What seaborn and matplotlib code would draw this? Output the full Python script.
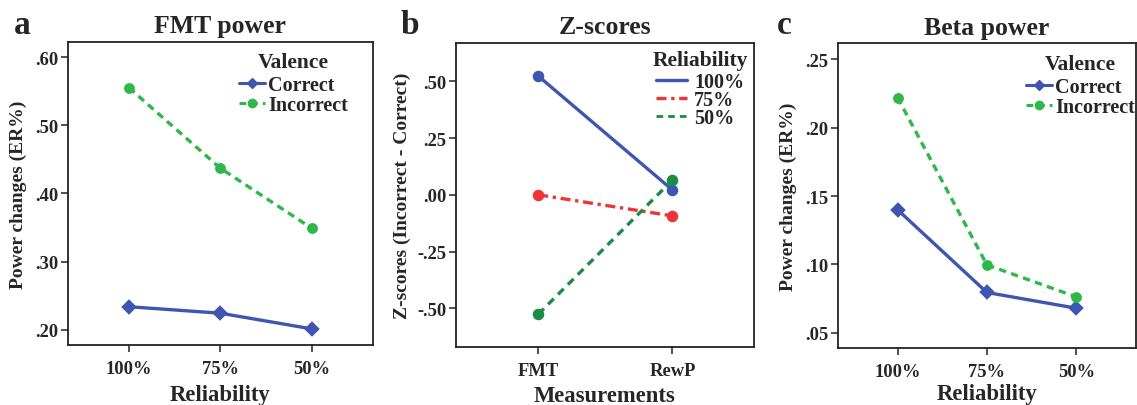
import numpy as np
import pandas as pd
import matplotlib
matplotlib.use("Agg")
import matplotlib.pyplot as plt
from matplotlib.lines import Line2D
import seaborn as sns

# ---------------- data ----------------
reliability = ["100%", "75%", "50%"]
valence = ["Correct", "Incorrect"]

fmt_correct = [0.234, 0.2245, 0.2015]
fmt_incorrect = [0.555, 0.437, 0.349]

measurements = ["FMT", "RewP"]
z_100 = [0.523, 0.021]
z_75 = [0.000, -0.093]
z_50 = [-0.526, 0.065]

beta_correct = [0.140, 0.0795, 0.068]
beta_incorrect = [0.222, 0.0997, 0.0763]

fmt_yticks = [0.20, 0.30, 0.40, 0.50, 0.60]
fmt_yticklabels = [".20", ".30", ".40", ".50", ".60"]
z_yticks = [-0.50, -0.25, 0.00, 0.25, 0.50]
z_yticklabels = ["-.50", "-.25", ".00", ".25", ".50"]
beta_yticks = [0.05, 0.10, 0.15, 0.20, 0.25]
beta_yticklabels = [".05", ".10", ".15", ".20", ".25"]

# ---------------- style ----------------
sns.set_theme(style="white")
plt.rcParams["font.family"] = ["Liberation Serif", "DejaVu Serif"]
plt.rcParams["font.weight"] = "bold"
plt.rcParams["axes.labelweight"] = "bold"
plt.rcParams["axes.titleweight"] = "bold"

BLUE = "#3F56B0"
GREEN = "#2EB84A"
RED = "#EE3438"
DKGREEN = "#1E8A48"
EDGE = "#222222"

TICK_FS = 13.3
TITLE_FS = 18.5
LEG_FS = 14.5
LEGT_FS = 15.5
XLAB_FS = 16.3
YLAB_FS = 14

fig = plt.figure(figsize=(11.37, 4.06), dpi=100)
ax_a = fig.add_axes([0.0598, 0.148, 0.268, 0.746])
ax_b = fig.add_axes([0.401, 0.143, 0.262, 0.749])
ax_c = fig.add_axes([0.737, 0.140, 0.262, 0.751])


def style_axes(ax):
    for s in ax.spines.values():
        s.set_visible(True)
        s.set_color(EDGE)
        s.set_linewidth(1.3)
    ax.tick_params(axis="both", which="both", direction="out", length=5, width=1.1,
                   color=EDGE, labelsize=TICK_FS, bottom=True, left=True)
    ax.tick_params(axis="x", pad=6)
    ax.tick_params(axis="y", pad=2)
    for lab in ax.get_xticklabels() + ax.get_yticklabels():
        lab.set_fontweight("bold")


def valence_panel(ax, corr, inc, yticks, yticklabels, ylim, title, leg_x, leg_y, xpad):
    df = pd.DataFrame({
        "Reliability": reliability * 2,
        "value": list(corr) + list(inc),
        "Valence": [valence[0]] * 3 + [valence[1]] * 3,
    })
    sns.pointplot(data=df, x="Reliability", y="value", hue="Valence",
                  order=reliability, hue_order=valence,
                  palette=[BLUE, GREEN], markers=["D", "o"],
                  linestyles=["-", "--"], errorbar=None, ax=ax,
                  markersize=6, linewidth=2.4, legend=False)
    for ln in ax.lines:
        if ln.get_linestyle() == "--":
            ln.set_dashes([2.2, 1.6])
    ax.set_xlim(-2 / 3, 8 / 3)
    ax.set_ylim(*ylim)
    ax.set_yticks(yticks)
    ax.set_yticklabels(yticklabels)
    ax.set_xlabel("Reliability", fontsize=XLAB_FS, fontweight="bold", labelpad=xpad)
    ax.set_ylabel("Power changes (ER%)", fontsize=YLAB_FS, fontweight="bold", labelpad=6)
    ax.set_title(title, fontsize=TITLE_FS, fontweight="bold", pad=7)
    style_axes(ax)
    handles = [
        Line2D([], [], color=BLUE, lw=2.2, marker="D", markersize=5),
        Line2D([], [], color=GREEN, lw=2.2, ls=(0, (2.2, 1.6)), marker="o", markersize=6),
    ]
    leg = ax.legend(handles, valence, title="Valence", loc="upper right",
                    bbox_to_anchor=(leg_x, leg_y), frameon=False,
                    prop={"size": LEG_FS, "weight": "bold"}, handlelength=1.3,
                    handletextpad=0.15, labelspacing=0.0, borderaxespad=0.3)
    leg.get_title().set_fontsize(LEGT_FS)
    leg.get_title().set_fontweight("bold")
    leg._legend_box.sep = 2


valence_panel(ax_a, fmt_correct, fmt_incorrect, fmt_yticks, fmt_yticklabels,
              (0.178, 0.622), "FMT power", 0.965, 1.012, 5)
valence_panel(ax_c, beta_correct, beta_incorrect, beta_yticks, beta_yticklabels,
              (0.0388, 0.2617), "Beta power", 1.045, 1.01, 2)

# panel b
rel_levels = ["100%", "75%", "50%"]
dfb = pd.DataFrame({
    "Measurements": measurements * 3,
    "z": z_100 + z_75 + z_50,
    "Reliability": [rel_levels[0]] * 2 + [rel_levels[1]] * 2 + [rel_levels[2]] * 2,
})
sns.pointplot(data=dfb, x="Measurements", y="z", hue="Reliability",
              order=measurements, hue_order=rel_levels,
              palette=[BLUE, RED, DKGREEN], markers=["o", "o", "o"],
              linestyles=["-", "-.", "--"], errorbar=None, ax=ax_b,
              markersize=6.5, linewidth=2.4, legend=False)
for ln in ax_b.lines:
    ls = ln.get_linestyle()
    if ls == "-.":
        ln.set_dashes([3.0, 1.4, 1.0, 1.4])
    elif ls == "--":
        ln.set_dashes([2.4, 1.8])
ax_b.set_xlim(-0.613, 1.606)
ax_b.set_ylim(-0.67, 0.669)
ax_b.set_yticks(z_yticks)
ax_b.set_yticklabels(z_yticklabels)
ax_b.set_xlabel("Measurements", fontsize=XLAB_FS, fontweight="bold", labelpad=4)
ax_b.set_ylabel("Z-scores (Incorrect - Correct)", fontsize=YLAB_FS, fontweight="bold", labelpad=4)
ax_b.set_title("Z-scores", fontsize=TITLE_FS, fontweight="bold", pad=7)
style_axes(ax_b)
hb = [
    Line2D([], [], color=BLUE, lw=2.4),
    Line2D([], [], color=RED, lw=2.4, ls=(0, (3.0, 1.4, 1.0, 1.4))),
    Line2D([], [], color=DKGREEN, lw=2.0, ls=(0, (2.4, 1.8))),
]
legb = ax_b.legend(hb, rel_levels, title="Reliability", loc="upper right",
                   bbox_to_anchor=(1.027, 1.022), frameon=False,
                   prop={"size": LEG_FS, "weight": "bold"}, handlelength=1.55,
                   handletextpad=0.35, labelspacing=-0.1, borderaxespad=0.3)
legb.get_title().set_fontsize(LEGT_FS)
legb.get_title().set_fontweight("bold")
legb._legend_box.sep = 1

# panel letters
for ax, letter, xpx in [(ax_a, "a", 14), (ax_b, "b", 401), (ax_c, "c", 777)]:
    fig.text(xpx / 1137, 1 - 26 / 406, letter, fontsize=24, fontweight="bold",
             ha="left", va="center")

fig.savefig("out.png", dpi=100)
